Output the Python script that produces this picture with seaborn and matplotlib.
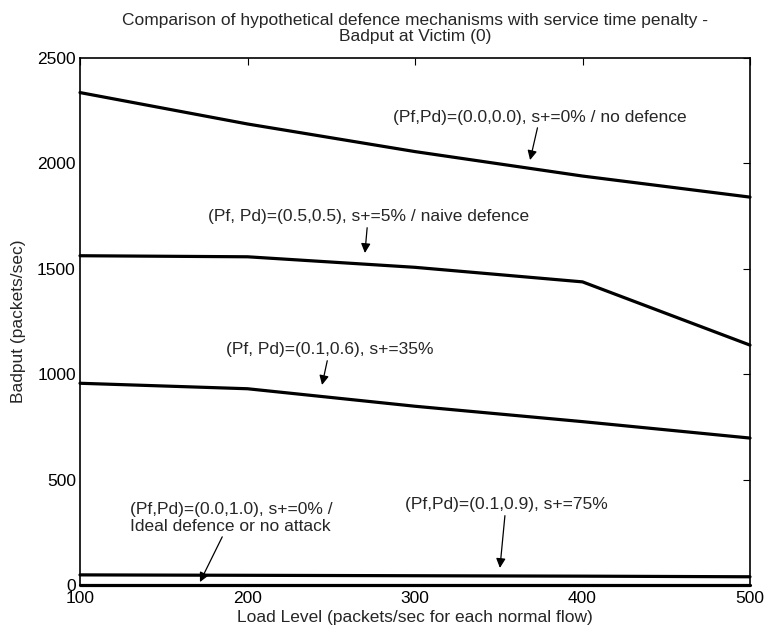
import matplotlib
matplotlib.use("Agg")
import matplotlib.pyplot as plt
import seaborn as sns
import pandas as pd

# Load levels (packets/sec for each normal flow)
load_levels = [100, 200, 300, 400, 500]

# Badput at victim for each hypothetical defence setting
badput_no_defence = [2336, 2187, 2056, 1940, 1840]
badput_naive = [1562, 1557, 1507, 1438, 1138]
badput_pf01_pd06 = [957, 931, 848, 775, 697]
badput_pf01_pd09 = [48, 46, 44, 42, 39]
badput_ideal = [0, 0, 0, 0, 0]

series_names = [
    "no defence",
    "naive defence",
    "Pf=0.1 Pd=0.6",
    "Pf=0.1 Pd=0.9",
    "ideal",
]
series_values = [badput_no_defence, badput_naive, badput_pf01_pd06,
                 badput_pf01_pd09, badput_ideal]

rows = []
for name, vals in zip(series_names, series_values):
    for x, y in zip(load_levels, vals):
        rows.append({"load": x, "badput": y, "setting": name})
df = pd.DataFrame(rows)

sns.set_style("white")
plt.rcParams["font.family"] = ["Liberation Sans", "DejaVu Sans"]
FS = 12.5

fig = plt.figure(figsize=(7.66, 6.34), dpi=100)
ax = fig.add_axes([80 / 766, 1 - 585 / 634, 670 / 766, 527 / 634])

sns.lineplot(data=df, x="load", y="badput", units="setting", estimator=None,
             color="black", linewidth=2.3, ax=ax, legend=False)
for line in ax.get_lines():
    line.set_clip_on(False)

ax.set_xlim(100, 500)
ax.set_ylim(0, 2500)
ax.set_xticks([100, 200, 300, 400, 500])
ax.set_yticks([0, 500, 1000, 1500, 2000, 2500])
ax.tick_params(direction="in", length=5, width=0.8, top=True, right=True,
               labelsize=FS, colors="black")
ax.tick_params(axis="x", pad=4)
ax.tick_params(axis="y", pad=3)
for s in ax.spines.values():
    s.set_color("black")
    s.set_linewidth(1.2)

ax.set_xlabel("Load Level (packets/sec for each normal flow)", fontsize=FS,
              labelpad=3)
ax.set_ylabel("Badput (packets/sec)", fontsize=FS, labelpad=8)
ax.set_title("Comparison of hypothetical defence mechanisms with service time penalty -\n"
             "Badput at Victim (0)", fontsize=FS, pad=12, linespacing=1.15)

arrow = dict(arrowstyle="-|>", color="black", lw=0.9, mutation_scale=14,
             shrinkA=0, shrinkB=0)
ax.annotate("(Pf,Pd)=(0.0,0.0), s+=0% / no defence", xy=(368.7, 2016),
            xytext=(374.6, 2220), ha="center", va="center", fontsize=FS,
            arrowprops=arrow)
ax.annotate("(Pf, Pd)=(0.5,0.5), s+=5% / naive defence", xy=(270.1, 1575),
            xytext=(272, 1746), ha="center", va="center", fontsize=FS,
            arrowprops=arrow)
ax.annotate("(Pf, Pd)=(0.1,0.6), s+=35%", xy=(244.5, 949),
            xytext=(249, 1115), ha="center", va="center", fontsize=FS,
            arrowprops=arrow)
ax.annotate("(Pf,Pd)=(0.0,1.0), s+=0% /\nIdeal defence or no attack",
            xy=(171.6, 14), xytext=(130, 318), ha="left", va="center",
            fontsize=FS, linespacing=1.1, arrowprops=arrow)
ax.annotate("(Pf,Pd)=(0.1,0.9), s+=75%", xy=(350.7, 81),
            xytext=(354.3, 380), ha="center", va="center", fontsize=FS,
            arrowprops=arrow)

fig.savefig("out.png", dpi=100)
